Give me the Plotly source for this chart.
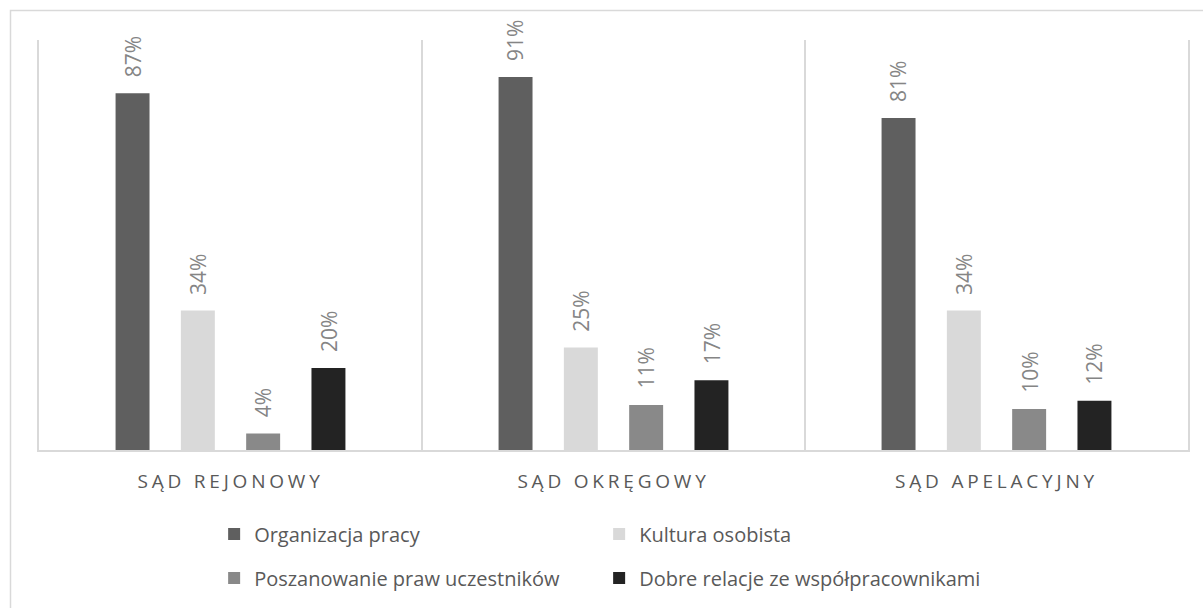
import plotly.graph_objects as go

# Sądy (kategorie osi X) i odsetki odpowiedzi dla każdej cechy
categories = ["SĄD REJONOWY", "SĄD OKRĘGOWY", "SĄD APELACYJNY"]
organizacja_pracy = [0.87, 0.91, 0.81]
kultura_osobista = [0.34, 0.25, 0.34]
poszanowanie_praw = [0.04, 0.11, 0.10]
dobre_relacje = [0.20, 0.17, 0.12]

series = [
    ("Organizacja pracy", organizacja_pracy, "#5f5f5f", "legend"),
    ("Kultura osobista", kultura_osobista, "#d9d9d9", "legend"),
    ("Poszanowanie praw uczestników", poszanowanie_praw, "#898989", "legend2"),
    ("Dobre relacje ze współpracownikami", dobre_relacje, "#232323", "legend2"),
]

W, H = 1203, 608
M_L, M_R, M_T, M_B = 39, 15, 40, 158
BARGAP = 0.318
FONT = "Open Sans"
GRID = "#d9d9d9"

fig = go.Figure()
for name, vals, color, lg in series:
    fig.add_trace(go.Bar(
        name=name, x=categories, y=vals,
        marker=dict(color=color, line=dict(width=0)),
        legend=lg,
    ))

# Etykiety wartości nad słupkami (obrócone o 90°)
cat_px = (W - M_L - M_R) / len(categories)
slot_px = cat_px * (1 - BARGAP) / len(series)
annotations = []
for i, (name, vals, color, lg) in enumerate(series):
    for c, v in zip(categories, vals):
        annotations.append(dict(
            x=c, y=v, xref="x", yref="y",
            text=f"{round(v * 100)}%", showarrow=False,
            textangle=-90, xanchor="center", yanchor="bottom",
            xshift=(i - (len(series) - 1) / 2) * slot_px, yshift=14,
            font=dict(family=FONT, size=21, color="#858585"),
        ))

# Ramka wokół całego wykresu
px_x = lambda p: (p - M_L) / (W - M_L - M_R)
px_y = lambda p: (H - M_B - p) / (H - M_T - M_B)
shapes = [dict(
    type="rect", xref="paper", yref="paper",
    x0=px_x(10.5), x1=px_x(W + 20), y0=px_y(H + 20), y1=px_y(10.5),
    line=dict(color=GRID, width=1.5), fillcolor="rgba(0,0,0,0)", layer="below",
)]

legend_common = dict(
    orientation="h", xref="container", yref="container",
    x=0.178, xanchor="left", yanchor="middle",
    entrywidth=340, entrywidthmode="pixels",
    font=dict(family=FONT, size=20, color="#595959"),
    bgcolor="rgba(0,0,0,0)", itemclick=False, traceorder="normal",
)

fig.update_layout(
    width=W, height=H,
    margin=dict(l=M_L, r=M_R, t=M_T, b=M_B),
    paper_bgcolor="white", plot_bgcolor="white",
    barmode="group", bargap=BARGAP, bargroupgap=0.48,
    showlegend=True,
    legend=dict(legend_common, y=1 - 534 / H),
    legend2=dict(legend_common, y=1 - 578 / H),
    annotations=annotations,
    shapes=shapes,
    xaxis=dict(
        type="category", tickson="boundaries", showgrid=True,
        gridcolor=GRID, gridwidth=1.5,
        showline=True, linecolor=GRID, linewidth=2,
        ticks="", ticklabelstandoff=13,
        tickvals=categories,
        ticktext=[f"<span style='letter-spacing:3.8px'>{c}</span>" for c in categories],
        tickfont=dict(family=FONT, size=19, color="#595959"),
    ),
    yaxis=dict(
        range=[0, 1], showgrid=False, zeroline=False,
        showticklabels=False, ticks="",
        showline=True, mirror=True, linecolor=GRID, linewidth=1.5,
    ),
)

fig.write_html("out.html")
